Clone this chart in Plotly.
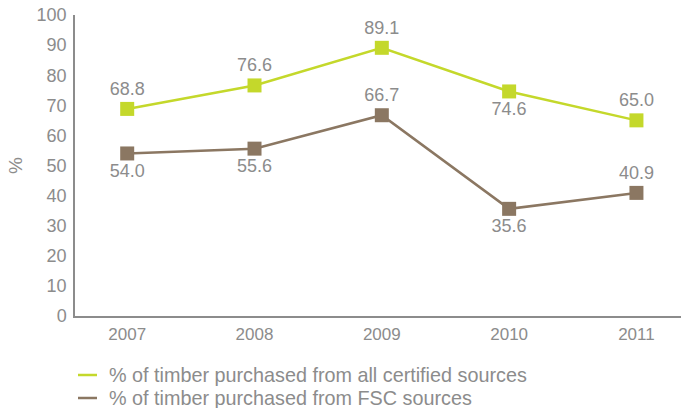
import plotly.graph_objects as go

years = ["2007", "2008", "2009", "2010", "2011"]
certified = [68.8, 76.6, 89.1, 74.6, 65.0]
fsc = [54.0, 55.6, 66.7, 35.6, 40.9]
cert_label_pos = ["top center", "top center", "top center", "bottom center", "top center"]
fsc_label_pos = ["bottom center", "bottom center", "top center", "bottom center", "top center"]
y_ticks = list(range(0, 101, 10))
series_names = ["% of timber purchased from all certified sources",
                "% of timber purchased from FSC sources"]

GREEN = "#c4d82b"
BROWN = "#8b7762"
GREY = "#8c8c8c"
FONT = "Liberation Sans"

xs = list(range(len(years)))

fig = go.Figure()
fig.add_trace(go.Scatter(
    x=xs, y=certified, mode="lines+markers+text", name=series_names[0],
    line=dict(color=GREEN, width=2.5),
    marker=dict(symbol="square", size=14, color=GREEN),
    text=[f"{v:.1f}" for v in certified], textposition=cert_label_pos,
    textfont=dict(family=FONT, size=18, color=GREY),
    showlegend=False, cliponaxis=False))
fig.add_trace(go.Scatter(
    x=xs, y=fsc, mode="lines+markers+text", name=series_names[1],
    line=dict(color=BROWN, width=2.5),
    marker=dict(symbol="square", size=14, color=BROWN),
    text=[f"{v:.1f}" for v in fsc], textposition=fsc_label_pos,
    textfont=dict(family=FONT, size=18, color=GREY),
    showlegend=False, cliponaxis=False))

# manual legend below the plot (paper coordinates; plot spans x 75..681, y 15..316)
W, H = 606.0, 301.0
def px_x(p): return (p - 75) / W
def px_y(p): return (316 - p) / H
shapes = []
annotations = []
for name, color, ypx in zip(series_names, [GREEN, BROWN], [375, 398]):
    shapes.append(dict(type="line", xref="paper", yref="paper",
                       x0=px_x(78), x1=px_x(97), y0=px_y(ypx), y1=px_y(ypx),
                       line=dict(color=color, width=2.5)))
    annotations.append(dict(xref="paper", yref="paper", x=px_x(107), y=px_y(ypx),
                            xanchor="left", yanchor="middle", showarrow=False,
                            text=name, font=dict(family=FONT, size=19.8, color=GREY)))

fig.update_layout(
    width=681, height=408,
    margin=dict(l=75, r=0, t=15, b=92, autoexpand=False),
    paper_bgcolor="white", plot_bgcolor="white",
    font=dict(family=FONT, size=18, color=GREY),
    showlegend=False,
    shapes=shapes, annotations=annotations,
    xaxis=dict(
        range=[-0.41, 4.35],
        tickmode="array", tickvals=xs, ticktext=years,
        showgrid=False, zeroline=False,
        showline=True, linecolor="#8c8c8c", linewidth=1.5,
        ticks="", ticklabelstandoff=2, tickfont=dict(size=17, color=GREY)),
    yaxis=dict(
        range=[0, 100],
        tickmode="array", tickvals=y_ticks,
        showgrid=False, zeroline=False,
        showline=True, linecolor="#8c8c8c", linewidth=1.5,
        ticks="", ticklabelstandoff=3,
        tickfont=dict(size=18, color=GREY),
        title=dict(text="%", font=dict(size=19, color=GREY), standoff=9)),
)

fig.write_html("out.html")
